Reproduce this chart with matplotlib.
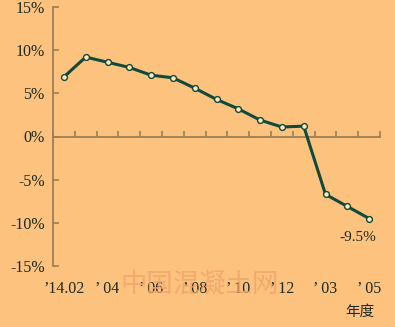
import numpy as np
import matplotlib.pyplot as plt
import matplotlib.transforms as mtransforms

# monthly growth rate, Feb 2014 - May 2015
months = ["’14.02", "03", "’ 04", "05", "’ 06", "07", "’ 08", "09", "’ 10", "11",
          "’ 12", "01-02", "’ 03", "04", "’ 05"]
growth = [6.9, 9.2, 8.6, 8.0, 7.1, 6.8, 5.6, 4.3, 3.2, 1.9, 1.1, 1.2, -6.7, -8.1, -9.5]
yticks = [15, 10, 5, 0, -5, -10, -15]

bg = '#fec27f'
axis_col = '#9a8058'
line_col = '#0f4a3a'
text_col = '#1a2a20'

fig = plt.figure(figsize=(3.95, 3.27), dpi=100, facecolor=bg)
ax = fig.add_axes([53/395, 61/327, 327/395, 259/327], facecolor=bg)

x = np.arange(len(growth))
ax.plot(x, growth, color=line_col, lw=2.2, marker='o', ms=4.2,
        mfc='#fde9bd', mec=line_col, mew=1.0, zorder=3)

ax.set_xlim(-0.5, len(growth) - 0.5)
ax.set_ylim(-15, 15)

for s in ['top', 'right']:
    ax.spines[s].set_visible(False)
ax.spines['bottom'].set_position(('data', 0))
for s in ['bottom', 'left']:
    ax.spines[s].set_color(axis_col)
    ax.spines[s].set_linewidth(1.3)

ax.set_yticks(yticks)
ax.set_yticklabels([f"{v}%" for v in yticks],
                   family='Liberation Serif', fontsize=11.5, color=text_col)
ax.tick_params(axis='y', direction='in', length=4, color=axis_col, width=1.2, pad=6)

ax.set_xticks(np.arange(-0.5, len(growth)))
ax.set_xticklabels([])
ax.tick_params(axis='x', direction='in', length=4, color=axis_col, width=1.2)

# category labels under the plot, every other month
trans = mtransforms.blended_transform_factory(ax.transData, ax.transAxes)
for i, lab in enumerate(months):
    if i % 2 == 0:
        ax.text(i, -0.09, lab, transform=trans, ha='center', va='center',
                family='Liberation Serif', fontsize=11.5, color=text_col)

ax.annotate(f"{growth[-1]}%", (x[-1], growth[-1]), xytext=(-8, -14),
            textcoords='offset points', ha='center', va='center',
            family='Liberation Serif', fontsize=11, color=text_col)

fig.text(360/395, 1 - 312/327, '年度', ha='center', va='center',
         family=['Noto Sans CJK SC', 'DejaVu Sans'], fontsize=10.5, color=text_col)

fig.text(200/395, 1 - 284/327, '中国混凝土网', ha='center', va='center',
         family=['Noto Sans CJK SC', 'DejaVu Sans'], fontsize=19, color='#f2a468', alpha=0.8)

fig.savefig('out.png', dpi=100, facecolor=bg)
